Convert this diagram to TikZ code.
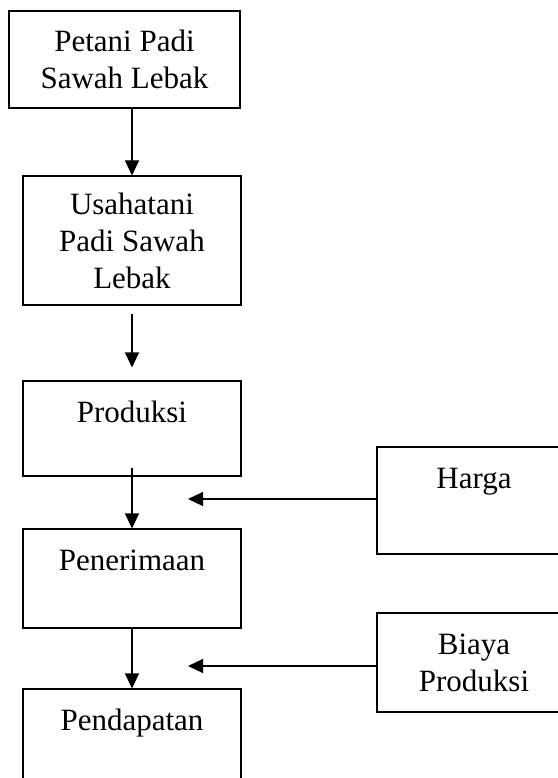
\documentclass[tikz,border=0pt]{standalone}
\usepackage{fontspec}
\setmainfont{Liberation Serif}
\usetikzlibrary{arrows.meta}

\begin{document}
\begin{tikzpicture}[
font=\fontsize{31pt}{37pt}\selectfont,
box/.style={draw, line width=1.1pt, inner sep=0pt, align=center},
flow/.style={line width=1.1pt, -{Triangle[length=15pt,width=14pt]}}
]

%%%%%%%%%%%%%%%%%%%%%%%%%%%%%%%%%%%%%%%%%%%%%%%%%%%%%%%%%%
% FRAME
%%%%%%%%%%%%%%%%%%%%%%%%%%%%%%%%%%%%%%%%%%%%%%%%%%%%%%%%%%

\node[
minimum width=557pt,
minimum height=778pt,
inner sep=0pt,
outer sep=0pt,
anchor=north west
](frame) at (0,0){};

\useasboundingbox (frame.north west) rectangle (frame.south east);

%%%%%%%%%%%%%%%%%%%%%%%%%%%%%%%%%%%%%%%%%%%%%%%%%%%%%%%%%%
% MAIN COLUMN
%%%%%%%%%%%%%%%%%%%%%%%%%%%%%%%%%%%%%%%%%%%%%%%%%%%%%%%%%%

\node[
box,
minimum width=231pt,
minimum height=97pt
](petani)
at ([xshift=124.5pt,yshift=-59.5pt]frame.north west)
{Petani Padi\\Sawah Lebak};

\node[
box,
minimum width=218pt,
minimum height=129pt
](usaha)
at ([xshift=132pt,yshift=-240.5pt]frame.north west)
{Usahatani\\Padi Sawah\\Lebak};

\node[
box,
minimum width=218pt,
text height=41pt,
text depth=54pt
](produksi)
at ([xshift=132pt,yshift=-428.5pt]frame.north west)
{Produksi};

\node[
box,
minimum width=218pt,
text height=41pt,
text depth=58pt
](penerimaan)
at ([xshift=132pt,yshift=-578.5pt]frame.north west)
{Penerimaan};

\node[
box,
minimum width=218pt,
text height=41pt,
text depth=70pt
](pendapatan)
at ([xshift=132pt,yshift=-744.5pt]frame.north west)
{Pendapatan};

%%%%%%%%%%%%%%%%%%%%%%%%%%%%%%%%%%%%%%%%%%%%%%%%%%%%%%%%%%
% INPUTS
%%%%%%%%%%%%%%%%%%%%%%%%%%%%%%%%%%%%%%%%%%%%%%%%%%%%%%%%%%

\node[
box,
minimum width=194pt,
text height=41pt,
text depth=66pt
](harga)
at ([xshift=474pt,yshift=-500.5pt]frame.north west)
{Harga};

\node[
box,
minimum width=194pt,
minimum height=99pt
](biaya)
at ([xshift=474pt,yshift=-662.5pt]frame.north west)
{Biaya\\Produksi};

%%%%%%%%%%%%%%%%%%%%%%%%%%%%%%%%%%%%%%%%%%%%%%%%%%%%%%%%%%
% CONNECTIONS
%%%%%%%%%%%%%%%%%%%%%%%%%%%%%%%%%%%%%%%%%%%%%%%%%%%%%%%%%%

\coordinate (gaptop) at ([yshift=-8pt]usaha.south);
\coordinate (gapend) at ([yshift=13pt]produksi.north);
\coordinate (prodout) at ([yshift=9pt]produksi.south);
\coordinate (hargatip) at ([xshift=188pt,yshift=-499pt]frame.north west);
\coordinate (biayatip) at ([xshift=188pt,yshift=-666pt]frame.north west);

\draw[flow] (petani.south -| usaha.north)--(usaha.north);
\draw[flow] (gaptop)--(gapend);
\draw[flow] (prodout)--(penerimaan.north);
\draw[flow] (penerimaan.south)--(pendapatan.north);

\draw[flow] (harga.west |- hargatip)--(hargatip);
\draw[flow] (biaya.west |- biayatip)--(biayatip);

\end{tikzpicture}
\end{document}
